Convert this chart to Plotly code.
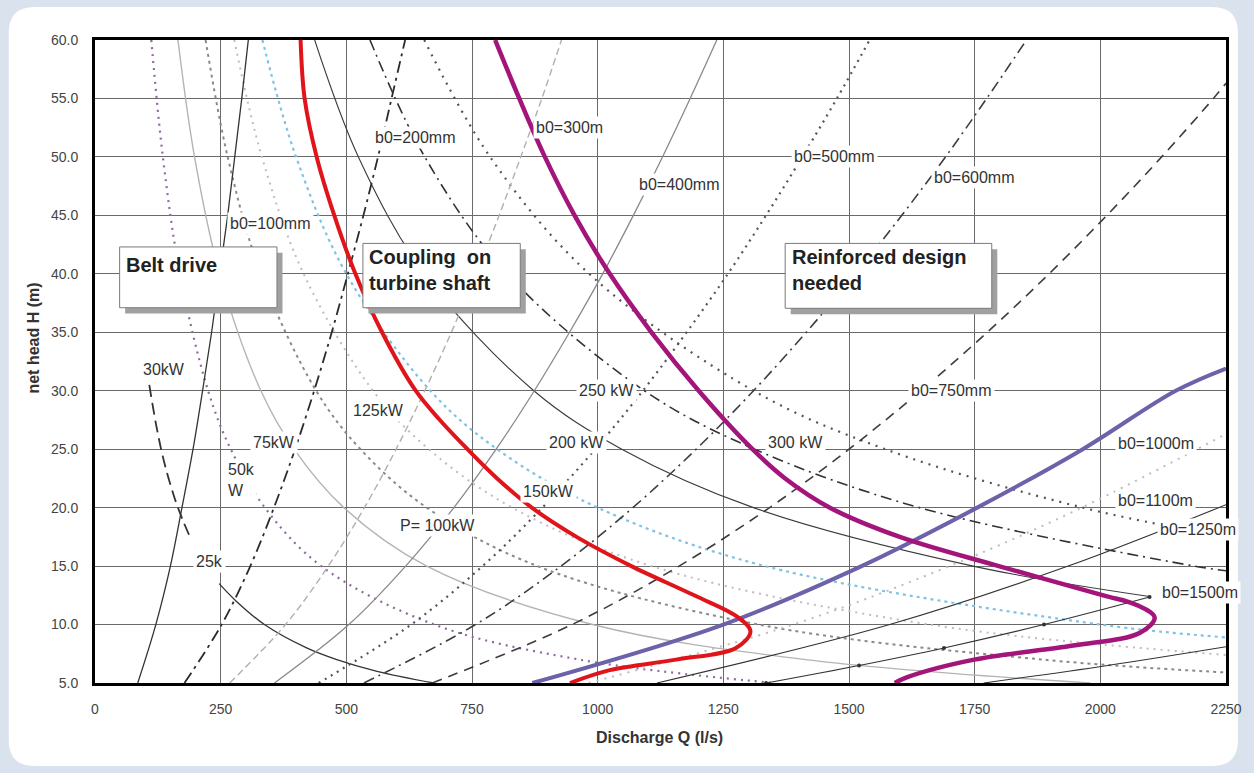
import plotly.graph_objects as go

# ---------------- axis ticks ----------------
Q_TICKS = [0, 250, 500, 750, 1000, 1250, 1500, 1750, 2000, 2250]
H_TICKS = [5.0, 10.0, 15.0, 20.0, 25.0, 30.0, 35.0, 40.0, 45.0, 50.0, 55.0, 60.0]

# ---------------- constant power curves: discharge Q (l/s) vs head H (m) ----------------
P25_H = [13.5, 12, 10, 8, 7, 6, 5]
P25_Q = [247, 281, 337, 421, 481, 561, 674]

P30_H = [30.5, 27, 24, 21, 19, 17.2]
P30_Q = [108, 122, 137, 157, 174, 192]

P50_H = [60, 50, 40, 30, 25, 20, 15, 10, 7, 5]
P50_Q = [112, 135, 169, 225, 270, 338, 450, 675, 964, 1350]

P75_H = [60, 50, 40, 30, 25, 20, 15, 10, 7, 5]
P75_Q = [165, 198, 248, 330, 396, 495, 660, 990, 1414, 1980]

P100_H = [60, 50, 40, 30, 25, 20, 15, 10, 7, 5.9]
P100_Q = [220, 264, 330, 440, 528, 660, 880, 1320, 1886, 2250]

P125_H = [60, 50, 40, 30, 25, 20, 15, 10, 7.4]
P125_Q = [277, 332, 415, 553, 664, 830, 1107, 1660, 2250]

P150_H = [60, 50, 40, 30, 25, 20, 15, 10, 8.9]
P150_Q = [333, 400, 500, 667, 800, 1000, 1333, 2000, 2250]

P200_H = [60, 50, 40, 30, 25, 20, 15, 12.4]
P200_Q = [437, 524, 655, 873, 1048, 1310, 1747, 2098]

P250_H = [60, 50, 40, 30, 25, 20, 15, 14.6]
P250_Q = [547, 656, 820, 1093, 1312, 1640, 2187, 2250]

P300_H = [60, 50, 40, 30, 25, 20, 17.5]
P300_Q = [655, 786, 983, 1310, 1572, 1965, 2250]

# ---------------- runner width curves b0 ----------------
B_H = [5, 10, 15, 20, 25, 30, 35, 40, 45, 50, 55, 60]
B100_Q = [85, 121, 150, 173, 195, 214, 232, 248, 264, 278, 292, 305]
B200_Q = [178, 252, 309, 356, 398, 436, 471, 503, 534, 563, 590, 617]
B300_Q = [268, 379, 464, 536, 599, 656, 709, 758, 804, 847, 889, 928]
B400_Q = [357, 505, 618, 714, 798, 874, 944, 1010, 1071, 1129, 1184, 1237]
B500_Q = [445, 629, 771, 890, 995, 1090, 1177, 1259, 1335, 1407, 1476, 1541]
B600_Q = [535, 757, 927, 1070, 1196, 1310, 1415, 1513, 1605, 1692, 1774, 1853]

B750_H = [5, 10, 15, 20, 25, 30, 35, 40, 45, 50, 55, 56.3]
B750_Q = [671, 949, 1162, 1342, 1500, 1643, 1775, 1898, 2013, 2122, 2225, 2250]

B1000_H = [5, 10, 15, 20, 25, 30, 31.9]
B1000_Q = [870, 1250, 1525, 1755, 1965, 2150, 2250]

B1100_H = [5, 10, 15, 20, 26.3]
B1100_Q = [982, 1389, 1700, 1963, 2250]

B1250_H = [5, 10, 15, 20.25]
B1250_Q = [1118, 1581, 1936, 2250]

B1500_H = [5, 6.5, 8, 10, 12.35]
B1500_Q = [1335, 1520, 1689, 1888, 2098]

B2000_H = [5, 6.5, 8.1]
B2000_Q = [1768, 2015, 2250]

# ---------------- application limits ----------------
COUPLING_H = [60, 55, 50, 45, 40, 35, 30, 27.5, 25, 22.5, 20, 17.5, 15, 12.5,
              10.6, 9.4, 8, 7, 6.1, 5]
COUPLING_Q = [409, 417, 441, 476, 518, 571, 638, 686, 741, 800, 869, 958, 1067, 1192,
              1280, 1304, 1275, 1156, 1024, 945]

REINFORCED_H = [60, 55, 50, 45, 40, 35, 30, 25, 22.5, 20, 17.5, 15, 12.5,
                11.7, 10.6, 9.3, 8.2, 7, 5.5, 5]
REINFORCED_Q = [796, 844, 895, 954, 1024, 1107, 1201, 1308, 1373, 1462, 1601, 1798, 2006,
                2071, 2108, 2079, 1946, 1749, 1616, 1591]

FONT = "Arial, 'Liberation Sans', sans-serif"

fig = go.Figure()


def curve(q, h, color, width, dash="solid", markers=False):
    fig.add_trace(go.Scatter(
        x=q, y=h,
        mode="lines+markers" if markers else "lines",
        line=dict(color=color, width=width, dash=dash, shape="spline", smoothing=1.0),
        marker=dict(size=4, color=color) if markers else None,
        hoverinfo="skip", showlegend=False,
    ))


# power curves
curve(P50_Q, P50_H, "#8f6a9e", 2.2, "2px,5px")
curve(P75_Q, P75_H, "#b4b4b4", 1.4)
curve(P100_Q, P100_H, "#8a8a8a", 2.0, "3px,4px")
curve(P125_Q, P125_H, "#c9b6c5", 2.0, "2px,5px")
curve(P150_Q, P150_H, "#7fc3e3", 2.2, "3px,4px")
curve(P200_Q, P200_H, "#3a3a3a", 1.1)
curve(P250_Q, P250_H, "#333333", 1.6, "11px,5px,2px,5px")
curve(P300_Q, P300_H, "#555555", 2.2, "2px,6px")
curve(P30_Q, P30_H, "#333333", 1.8, "12px,6px")
curve(P25_Q, P25_H, "#333333", 1.3)

# runner width curves
curve(B100_Q, B_H, "#333333", 1.3)
curve(B200_Q, B_H, "#2b2b2b", 1.8, "12px,5px,3px,5px")
curve(B300_Q, B_H, "#b0b0b0", 1.4, "7px,4px")
curve(B400_Q, B_H, "#8a8a8a", 1.3)
curve(B500_Q, B_H, "#555555", 2.2, "2px,5px")
curve(B600_Q, B_H, "#3d3d3d", 1.6, "11px,5px,2px,5px")
curve(B750_Q, B750_H, "#3d3d3d", 1.6, "10px,7px")
curve(B1100_Q, B1100_H, "#bdbdbd", 2.0, "2px,6px")
curve(B1250_Q, B1250_H, "#333333", 1.1)
curve(B1500_Q, B1500_H, "#333333", 1.1, markers=True)
curve(B2000_Q, B2000_H, "#333333", 1.1)
curve(B1000_Q, B1000_H, "#6b62aa", 4.0)

# limits
curve(COUPLING_Q, COUPLING_H, "#e0151b", 4.0)
curve(REINFORCED_Q, REINFORCED_H, "#a3157a", 4.5)

# ---------------- curve labels ----------------
labels = [
    ("b0=100mm", 350, 44.3), ("b0=200mm", 638, 51.7), ("b0=300m", 943, 52.5),
    ("b0=400mm", 1162, 47.6), ("b0=500mm", 1472, 50.0), ("b0=600mm", 1749, 48.2),
    ("b0=750mm", 1703, 30.0), ("b0=1000m", 2110, 25.5), ("b0=1100m", 2110, 20.6),
    ("b0=1250m", 2195, 18.1), ("b0=1500m", 2198, 12.7),
    ("30kW", 138, 31.8), ("25k", 227, 15.4),
    ("75kW", 356, 25.6), ("125kW", 563, 28.3), ("150kW", 903, 21.4),
    ("P= 100kW", 682, 18.5), ("200 kW", 958, 25.6), ("250 kW", 1018, 30.0),
    ("300 kW", 1393, 25.6),
]
LABEL_FONT = dict(family=FONT, size=16, color="#333333")
for text, q, h in labels:
    fig.add_annotation(x=q, y=h, xref="x", yref="y", text=text, showarrow=False,
                       font=LABEL_FONT, bgcolor="white", borderpad=2)
fig.add_annotation(x=292, y=22.4, xref="x", yref="y", text="50k<br>W", showarrow=False,
                   align="left", font=LABEL_FONT, bgcolor="white", borderpad=1)

# ---------------- region boxes ----------------
boxes = [
    (49, 362, 37.1, 42.3, ["Belt drive"], 40.75),
    (533, 846, 37.1, 42.6, ["Coupling  on", "turbine shaft"], 41.4),
    (1373, 1784, 37.05, 42.6, ["Reinforced design", "needed"], 41.4),
]
shapes = []
for x0, x1, y0, y1, lines, first in boxes:
    shapes.append(dict(type="rect", xref="x", yref="y", x0=x0 + 11, x1=x1 + 11,
                       y0=y0 - 0.5, y1=y1 - 0.5, fillcolor="#a0a0a0",
                       line=dict(width=0), layer="above"))
    shapes.append(dict(type="rect", xref="x", yref="y", x0=x0, x1=x1, y0=y0, y1=y1,
                       fillcolor="white", line=dict(color="#7a7a7a", width=1),
                       layer="above"))
    for i, ln in enumerate(lines):
        fig.add_annotation(x=x0 + 9, y=first - i * 2.22, xref="x", yref="y",
                           text=f"<b>{ln}</b>", showarrow=False,
                           xanchor="left", yanchor="middle",
                           font=dict(family=FONT, size=20, color="#222222"))

# ---------------- page card ----------------
L, R, T, B = 95, 1236, 40, 683


def px(x, y):
    return (x - L) / (R - L), (B - y) / (B - T)


cx0, cy0 = px(8, 7)
cx1, cy1 = px(1248, 766)
rx, ry = 26 / (R - L), 26 / (B - T)
card = (f"M {cx0 + rx},{cy0} L {cx1 - rx},{cy0} Q {cx1},{cy0} {cx1},{cy0 - ry} "
        f"L {cx1},{cy1 + ry} Q {cx1},{cy1} {cx1 - rx},{cy1} L {cx0 + rx},{cy1} "
        f"Q {cx0},{cy1} {cx0},{cy1 + ry} L {cx0},{cy0 - ry} Q {cx0},{cy0} {cx0 + rx},{cy0} Z")
shapes.insert(0, dict(type="path", xref="paper", yref="paper", path=card,
                      fillcolor="white", line=dict(width=0), layer="below"))

# axis titles
tx, ty = px(664, 737)
fig.add_annotation(x=tx, y=ty, xref="paper", yref="paper", text="<b>Discharge Q (l/s)</b>",
                   showarrow=False, xanchor="center", yanchor="middle",
                   font=dict(family=FONT, size=16, color="#333333"))
tx, ty = px(32, 338)
fig.add_annotation(x=tx, y=ty, xref="paper", yref="paper", text="<b>net head H (m)</b>",
                   showarrow=False, textangle=-90, xanchor="center", yanchor="middle",
                   font=dict(family=FONT, size=16, color="#333333"))

fig.update_layout(
    width=1254, height=773,
    margin=dict(l=L, r=1254 - R, t=T, b=773 - B),
    paper_bgcolor="#dae3ed", plot_bgcolor="white",
    shapes=shapes, showlegend=False,
    font=dict(family=FONT),
)
fig.update_xaxes(range=[0, 2250], tickvals=Q_TICKS, ticktext=[str(v) for v in Q_TICKS],
                 showgrid=True, gridcolor="#6a6a6a", gridwidth=1, zeroline=False,
                 showline=True, linecolor="black", linewidth=3, mirror=True,
                 ticks="", ticklabelstandoff=11,
                 tickfont=dict(family=FONT, size=14, color="#444444"))
fig.update_yaxes(range=[5, 60], tickvals=H_TICKS, ticktext=[f"{v:.1f}" for v in H_TICKS],
                 showgrid=True, gridcolor="#6a6a6a", gridwidth=1, zeroline=False,
                 showline=True, linecolor="black", linewidth=3, mirror=True,
                 ticks="", ticklabelstandoff=11,
                 tickfont=dict(family=FONT, size=14, color="#444444"))

fig.write_html("out.html")
